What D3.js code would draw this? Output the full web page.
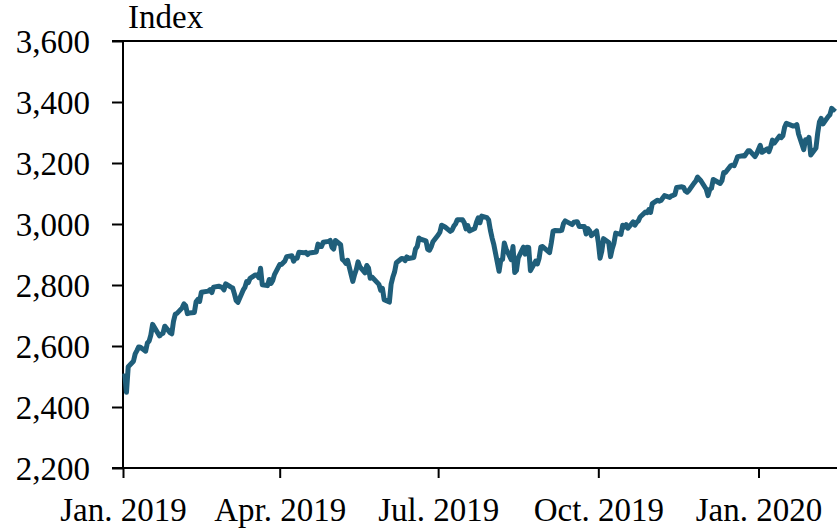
<!DOCTYPE html>
<html>
<head>
<meta charset="utf-8">
<script src="https://cdn.jsdelivr.net/npm/d3@7"></script>
<style>
  html, body { margin: 0; padding: 0; background: #ffffff; }
  #chart { width: 837px; height: 532px; }
  svg text { font-family: "Liberation Serif", "DejaVu Serif", serif; fill: #000; }
</style>
</head>
<body>
<div id="chart"></div>
<script>
// trading days (month -> list of days) and the index close on each of them
var days2019 = {
  1: [2,3,4,7,8,9,10,11,14,15,16,17,18,22,23,24,25,28,29,30,31],
  2: [1,4,5,6,7,8,11,12,13,14,15,19,20,21,22,25,26,27,28],
  3: [1,4,5,6,7,8,11,12,13,14,15,18,19,20,21,22,25,26,27,28,29],
  4: [1,2,3,4,5,8,9,10,11,12,15,16,17,18,22,23,24,25,26,29,30],
  5: [1,2,3,6,7,8,9,10,13,14,15,16,17,20,21,22,23,24,28,29,30,31],
  6: [3,4,5,6,7,10,11,12,13,14,17,18,19,20,21,24,25,26,27,28],
  7: [1,2,3,5,8,9,10,11,12,15,16,17,18,19,22,23,24,25,26,29,30,31],
  8: [1,2,5,6,7,8,9,12,13,14,15,16,19,20,21,22,23,26,27,28,29,30],
  9: [3,4,5,6,9,10,11,12,13,16,17,18,19,20,23,24,25,26,27,30],
  10: [1,2,3,4,7,8,9,10,11,14,15,16,17,18,21,22,23,24,25,28,29,30,31],
  11: [1,4,5,6,7,8,11,12,13,14,15,18,19,20,21,22,25,26,27,29],
  12: [2,3,4,5,6,9,10,11,12,13,16,17,18,19,20,23,24,26,27,30,31]
};
var days2020 = {
  1: [2,3,6,7,8,9,10,13,14,15,16,17,21,22,23,24,27,28,29,30,31],
  2: [3,4,5,6,7,10,11,12,13,14]
};

var closes2019 = [
  2510, 2448, 2532, 2550, 2574, 2585, 2597, 2596, 2583, 2610, 2616, 2636, 2671, 2633, 2639, 2642, 2665, 2644, 2640, 2681, 2704,
  2707, 2725, 2738, 2732, 2706, 2708, 2710, 2745, 2753, 2746, 2776, 2780, 2785, 2775, 2793, 2796, 2794, 2792, 2784,
  2804, 2793, 2790, 2771, 2749, 2743, 2783, 2792, 2811, 2808, 2822, 2833, 2833, 2824, 2855, 2801, 2798, 2818, 2805, 2815, 2834,
  2867, 2867, 2873, 2879, 2893, 2896, 2878, 2888, 2888, 2907, 2906, 2907, 2900, 2905, 2908, 2934, 2927, 2926, 2940, 2943, 2946,
  2924, 2918, 2946, 2932, 2884, 2879, 2871, 2881, 2812, 2834, 2851, 2876, 2860, 2840, 2864, 2856, 2822, 2826, 2802, 2783, 2789, 2752,
  2744, 2803, 2826, 2843, 2873, 2887, 2886, 2880, 2892, 2887, 2890, 2918, 2926, 2954, 2950, 2945, 2917, 2914, 2925, 2942,
  2964, 2973, 2996, 2990, 2976, 2980, 2993, 3000, 3014, 3014, 3004, 2984, 2995, 2977, 2985, 3005, 3020, 3004, 3026, 3021, 3013, 2980,
  2954, 2932, 2845, 2882, 2884, 2938, 2919, 2883, 2926, 2841, 2848, 2889, 2924, 2901, 2924, 2923, 2847, 2878, 2869, 2888, 2925, 2926,
  2906, 2938, 2976, 2979, 2978, 2979, 3001, 3010, 3007, 2998, 3006, 3007, 3007, 2992, 2992, 2967, 2985, 2978, 2962, 2977,
  2940, 2888, 2911, 2952, 2939, 2893, 2919, 2938, 2970, 2966, 2996, 2990, 2998, 2986, 3007, 2996, 3005, 3010, 3023, 3039, 3037, 3047, 3038,
  3067, 3078, 3075, 3077, 3085, 3093, 3087, 3092, 3094, 3097, 3120, 3122, 3120, 3108, 3104, 3110, 3134, 3141, 3154, 3141,
  3114, 3093, 3113, 3117, 3146, 3136, 3133, 3142, 3169, 3169, 3191, 3193, 3191, 3205, 3221, 3224, 3223, 3240, 3240, 3221, 3231
];
var closes2020 = [
  3258, 3235, 3246, 3237, 3253, 3275, 3265, 3288, 3283, 3289, 3317, 3330, 3321, 3322, 3326, 3295, 3244, 3276, 3273, 3284, 3226,
  3249, 3298, 3335, 3346, 3328, 3352, 3358, 3379, 3374, 3380
];

var yTicks = [2200, 2400, 2600, 2800, 3000, 3200, 3400, 3600];
var xTickDates = ["2019-01-01", "2019-04-01", "2019-07-01", "2019-10-01", "2020-01-01"];
var xTickLabels = ["Jan. 2019", "Apr. 2019", "Jul. 2019", "Oct. 2019", "Jan. 2020"];
var unitLabel = "Index";

function buildSeries(year, days, closes) {
    var out = [];
    Object.keys(days).forEach(function(m) {
        days[m].forEach(function(d) {
            out.push({ date: new Date(year, +m - 1, d), value: closes[out.length] });
        });
    });
    return out;
}
var series = buildSeries(2019, days2019, closes2019).concat(buildSeries(2020, days2020, closes2020));

const width = 837, height = 532;
const plotLeft = 123, plotTop = 41, plotBottom = 468;

const svg = d3.select("#chart")
    .append("svg")
    .attr("width", width)
    .attr("height", height);

// Jan 1 2019 at the y axis, Jan 1 2020 at x=758
const x = d3.scaleTime()
    .domain([new Date(2019, 0, 1), new Date(2020, 0, 1)])
    .range([plotLeft, 758.5]);
const y = d3.scaleLinear()
    .domain([2200, 3600])
    .range([plotBottom, plotTop]);

// y axis
const yAxis = svg.append("g")
    .attr("transform", "translate(" + plotLeft + ",0)")
    .call(d3.axisLeft(y).tickValues(yTicks).tickSize(11).tickPadding(22).tickFormat(d3.format(",")));
yAxis.selectAll("line, path").attr("stroke", "#000").attr("stroke-width", 2);
yAxis.select(".domain").attr("d", "M0," + (plotTop - 1) + "V" + (plotBottom + 1));
yAxis.selectAll("text").style("font-size", "33px").attr("dy", "0.34em");

// x axis
const xAxis = svg.append("g")
    .attr("transform", "translate(0," + plotBottom + ")")
    .call(d3.axisBottom(x)
        .tickValues(xTickDates.map(function(s) { return d3.timeParse("%Y-%m-%d")(s); }))
        .tickSize(10)
        .tickFormat(function(d, i) { return xTickLabels[i]; }));
xAxis.selectAll("line").attr("stroke", "#000").attr("stroke-width", 2);
xAxis.select(".domain").attr("stroke", "#000").attr("stroke-width", 2)
    .attr("d", "M" + (plotLeft - 11) + ",0H" + width);
xAxis.selectAll("text").style("font-size", "33px").attr("y", 53).attr("dy", 0);

// top frame line
svg.append("line")
    .attr("x1", plotLeft - 11).attr("x2", width)
    .attr("y1", plotTop).attr("y2", plotTop)
    .attr("stroke", "#000").attr("stroke-width", 2);

svg.append("text")
    .attr("x", 128)
    .attr("y", 28)
    .style("font-size", "33px")
    .text(unitLabel);

const line = d3.line()
    .x(function(d) { return x(d.date); })
    .y(function(d) { return y(d.value); });

svg.append("path")
    .datum(series)
    .attr("fill", "none")
    .attr("stroke", "#1f5e7a")
    .attr("stroke-width", 5)
    .attr("stroke-linejoin", "round")
    .attr("d", line);
</script>
</body>
</html>
